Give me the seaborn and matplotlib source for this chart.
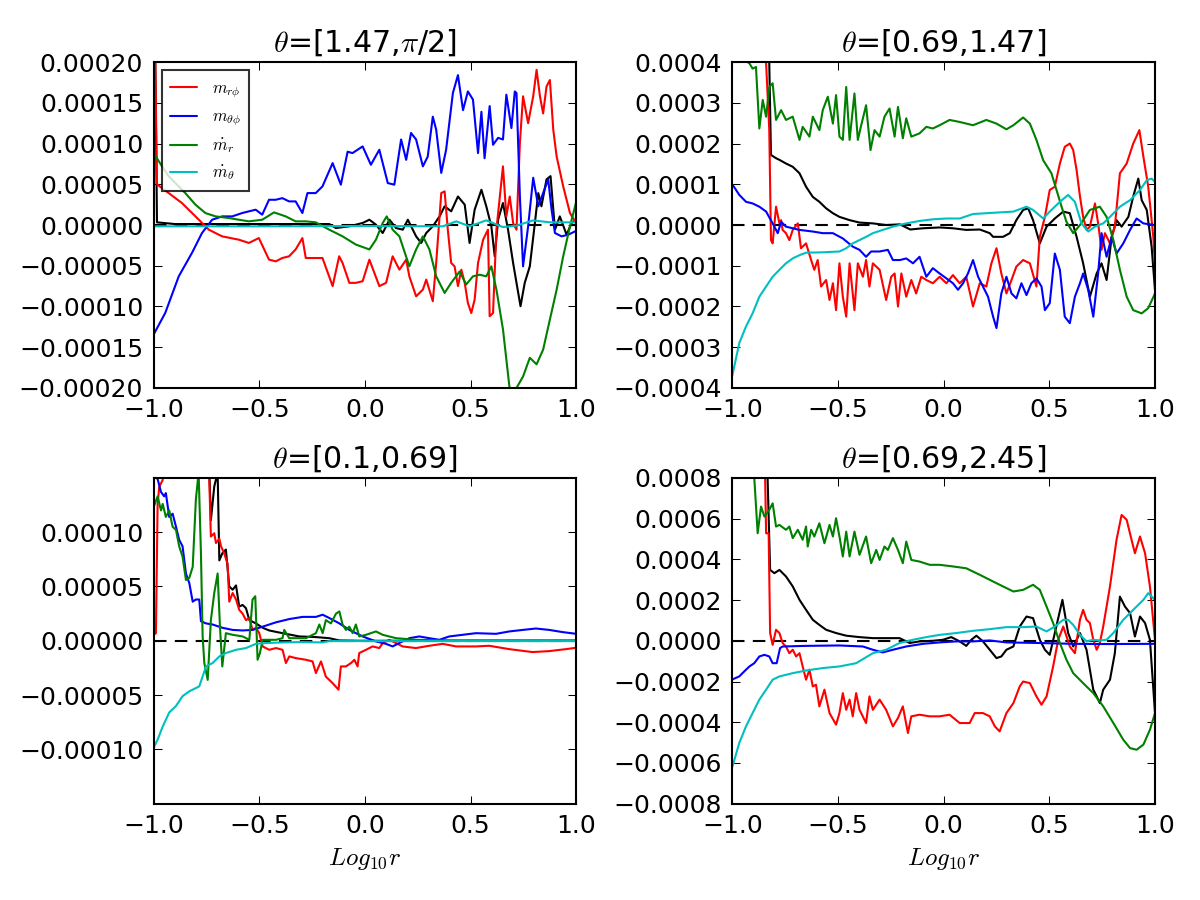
import numpy as np
import pandas as pd
import matplotlib
matplotlib.use("Agg")
import matplotlib.pyplot as plt
from matplotlib.ticker import MultipleLocator, FixedLocator
import seaborn as sns

# values are in units of 1e-5
SCALE = 1e-5

# ---- theta = [1.47, pi/2]  (top left)
tl_rphi_x = [-1.0, -0.992, -0.984, -0.866, -0.786, -0.739, -0.676, -0.597, -0.549, -0.502, -0.454, -0.422,
             -0.391, -0.359, -0.328, -0.296, -0.280, -0.201, -0.153, -0.122, -0.106, -0.074, -0.043, -0.011,
             0.021, 0.068, 0.100, 0.131, 0.163, 0.195, 0.210, 0.242, 0.274, 0.290, 0.321, 0.337, 0.361, 0.377,
             0.392, 0.408, 0.424, 0.440, 0.456, 0.472, 0.487, 0.503, 0.519, 0.535, 0.559, 0.582, 0.590, 0.606,
             0.622, 0.653, 0.669, 0.685, 0.701, 0.717, 0.733, 0.748, 0.772, 0.796, 0.812, 0.828, 0.843, 0.859,
             0.875, 0.891, 0.907, 0.938, 0.970, 0.994]
tl_rphi_y = [30, 20, 5.0, 2.7, 0.65, -0.57, -1.39, -1.8, -2.2, -1.6, -4.25, -4.46,
             -4.05, -3.84, -3.0, -1.6, -4.05, -4.05, -7.5, -3.84, -4.66, -7.1, -7.1, -6.9,
             -4.25, -7.5, -7.1, -3.84, -5.48, -4.25, -6.3, -8.75, -7.93, -6.7, -9.36, -4.66, 3.92, 4.13,
             -0.57, -4.66, -5.07, -7.5, -5.48, -7.1, -9.57, -10.8, -9.16, -4.66, -1.8, -0.57, -11.2, -10.8,
             -0.57, 7.2, 1.06, 3.5, 0.25, -0.57, 10.1, 15.8, 12.5, 15.8, 19.05, 15.8, 13.7, 17.0,
             17.8, 11.7, 8.4, 4.74, 1.47, 0.45]
tl_tphi_x = [-1.0, -0.945, -0.881, -0.818, -0.771, -0.723, -0.676, -0.628, -0.581, -0.549, -0.517, -0.486,
             -0.454, -0.422, -0.391, -0.359, -0.328, -0.296, -0.272, -0.233, -0.201, -0.153, -0.114, -0.082,
             -0.059, -0.011, 0.028, 0.068, 0.108, 0.139, 0.171, 0.195, 0.218, 0.242, 0.274, 0.297, 0.321,
             0.337, 0.361, 0.384, 0.416, 0.440, 0.464, 0.487, 0.511, 0.535, 0.551, 0.566, 0.590, 0.606, 0.630,
             0.653, 0.669, 0.693, 0.709, 0.717, 0.733, 0.748, 0.772, 0.796, 0.820, 0.843, 0.867, 0.883, 0.899,
             0.930, 0.962, 0.994]
tl_tphi_y = [-13.45, -10.8, -6.3, -3.4, -0.98, 0.65, 1.06, 1.06, 1.47, 1.68, 1.88, 1.27,
             3.1, 3.1, 3.3, 2.9, 2.9, 1.47, 3.92, 3.92, 4.74, 7.6, 4.95, 9.0,
             8.83, 9.65, 7.4, 9.24, 5.15, 4.95, 10.5, 8.0, 11.3, 10.5, 7.2, 8.4, 13.3,
             11.7, 6.4, 9.24, 16.2, 18.4, 14.1, 16.4, 15.4, 8.83, 13.9, 8.2, 14.6, 9.85, 10.7,
             10.5, 16.0, 11.9, 16.4, 16.2, 3.5, -5.07, -0.16, 5.8, 2.3, 3.92, 5.6, 1.88, -0.98,
             -1.39, -1.19, -0.78]
tl_mr_x = [-1.0, -0.960, -0.929, -0.897, -0.850, -0.802, -0.755, -0.707, -0.644, -0.597, -0.549, -0.486,
           -0.430, -0.375, -0.328, -0.280, -0.233, -0.169, -0.106, -0.043, 0.021, 0.052, 0.084, 0.103,
           0.131, 0.163, 0.210, 0.242, 0.274, 0.305, 0.337, 0.377, 0.408, 0.448, 0.479, 0.511, 0.543,
           0.574, 0.598, 0.622, 0.653, 0.685, 0.717, 0.748, 0.780, 0.812, 0.843, 0.875, 0.907, 0.938,
           0.970, 1.0]
tl_mr_y = [8.83, 7.2, 6.0, 5.15, 3.92, 2.5, 1.47, 1.06, 0.86, 0.65, 0.45, 0.65,
           1.55, 1.06, 0.45, 0.45, 0.33, -0.57, -1.39, -2.4, -3.0, -1.8, 0.25, 1.06,
           -0.57, -1.39, -5.07, -3.0, -1.39, -3.0, -6.3, -8.34, -7.1, -5.7, -7.3, -6.3, -6.1,
           -6.3, -5.07, -7.93, -12.8, -20.2, -20.0, -18.6, -16.3, -17.1, -15.3, -11.6, -7.93, -3.84,
           -0.16, 2.9]
tl_mt_x = [-1.0, -0.5, 0.0, 0.369, 0.432, 0.495, 0.574, 0.653, 0.717, 0.796, 0.875, 1.0]
tl_mt_y = [-0.16, -0.16, -0.12, -0.16, 0.45, -0.16, 0.57, -0.25, -0.08, 0.57, 0.33, 0.33]
tl_tot_x = [-1.0, -0.992, -0.984, -0.9, -0.5, -0.169, -0.138, -0.074, -0.011, 0.021, 0.052, 0.084, 0.116,
            0.147, 0.179, 0.203, 0.242, 0.266, 0.290, 0.321, 0.353, 0.377, 0.408, 0.440, 0.472, 0.495,
            0.519, 0.551, 0.574, 0.598, 0.614, 0.630, 0.653, 0.677, 0.701, 0.717, 0.736, 0.756, 0.780,
            0.804, 0.820, 0.835, 0.859, 0.878, 0.899, 0.922, 0.954, 0.978, 1.0]
tl_tot_y = [30, 20, 0.33, 0.12, 0.12, 0.12, -0.37, -0.16, 0.25, 0.65, 0.04, -0.98, 0.65,
            -0.37, -0.57, 0.65, -1.39, -2.2, -0.98, -0.16, 1.06, 2.3, 1.68, 3.5, 2.5, -2.2,
            1.88, 4.33, 2.3, -0.16, -3.84, 0.65, 2.7, -0.57, -4.66, -7.1, -9.97, -7.1, -5.07,
            0.25, 3.92, 2.3, 5.6, 6.0, -0.57, 1.06, -1.19, 0.25, 0.65]

# ---- theta = [0.69, 1.47]  (top right)
tr_rphi_x = [-1.0, -0.87, -0.856, -0.840, -0.825, -0.817, -0.809, -0.793, -0.777, -0.769, -0.762, -0.746,
             -0.730, -0.714, -0.690, -0.675, -0.651, -0.627, -0.612, -0.596, -0.580, -0.556, -0.540, -0.524,
             -0.509, -0.493, -0.477, -0.461, -0.445, -0.422, -0.406, -0.382, -0.367, -0.351, -0.335, -0.303,
             -0.272, -0.248, -0.232, -0.216, -0.200, -0.177, -0.153, -0.130, -0.106, -0.082, -0.051, -0.019,
             0.013, 0.044, 0.076, 0.107, 0.139, 0.171, 0.202, 0.226, 0.250, 0.273, 0.297, 0.321, 0.344,
             0.376, 0.408, 0.439, 0.455, 0.479, 0.502, 0.526, 0.550, 0.573, 0.597, 0.613, 0.629, 0.645,
             0.660, 0.676, 0.692, 0.716, 0.731, 0.747, 0.763, 0.787, 0.810, 0.834, 0.866, 0.897, 0.926,
             0.945, 0.968, 0.992, 1.0]
tr_rphi_y = [60, 55, 50, 39.7, 23.3, -3.7, -4.5, 4.5, 0.4, 1.2, -1.2, -2.0,
             -3.7, -1.2, 0.4, -5.7, -4.5, -8.6, -11.0, -8.6, -15.1, -13.5, -18.4, -14.3,
             -20.9, -9.4, -17.6, -22.5, -9.4, -20.9, -9.4, -12.7, -8.6, -15.1, -9.4, -11.0,
             -18.4, -12.7, -11.9, -20.0, -11.9, -17.6, -13.5, -16.8, -12.7, -13.5, -14.3, -12.7,
             -14.3, -12.3, -14.3, -12.7, -20.0, -14.3, -15.1, -9.4, -5.7, -11.9, -16.8, -13.5, -10.2,
             -8.6, -9.4, -15.1, -2.9, 2.0, 8.6, 9.4, 15.1, 19.2, 20.0, 18.4, 13.5, 7.0,
             2.0, -1.2, -0.4, 5.3, 0.4, -6.1, -2.0, -4.5, -0.4, 12.7, 15.1, 20.0, 23.3,
             16.8, 9.4, -2.9, -10.0]
tr_tphi_x = [-1.0, -0.967, -0.935, -0.904, -0.872, -0.840, -0.809, -0.785, -0.769, -0.746, -0.714, -0.682,
             -0.619, -0.572, -0.524, -0.477, -0.430, -0.398, -0.367, -0.343, -0.303, -0.264, -0.240, -0.207,
             -0.177, -0.145, -0.114, -0.082, -0.051, -0.019, 0.013, 0.044, 0.068, 0.092, 0.115, 0.139,
             0.163, 0.186, 0.210, 0.234, 0.250, 0.273, 0.297, 0.321, 0.344, 0.368, 0.392, 0.415, 0.439,
             0.463, 0.479, 0.502, 0.526, 0.550, 0.573, 0.597, 0.621, 0.645, 0.660, 0.684, 0.708, 0.731,
             0.747, 0.771, 0.795, 0.818, 0.850, 0.882, 0.913, 0.945, 0.976, 1.0]
tr_tphi_y = [10.0, 7.4, 5.7, 5.3, 4.5, 3.3, 0.4, -2.0, 0.8, -0.4, -0.8, -1.2,
             -1.6, -2.0, -2.0, -3.3, -5.3, -6.1, -7.8, -6.5, -6.5, -6.1, -8.6, -8.6,
             -8.2, -9.4, -7.8, -12.7, -10.6, -11.9, -13.1, -14.3, -15.9, -14.3, -11.9, -8.6,
             -12.7, -15.1, -17.6, -22.5, -25.3, -16.8, -12.7, -16.8, -18.0, -14.3, -17.2, -14.3, -13.1,
             -15.1, -20.9, -19.2, -7.0, -11.0, -22.5, -24.1, -17.6, -14.3, -11.9, -15.9, -22.5, -11.9,
             -2.0, -7.8, -2.9, -7.0, -4.5, -1.2, 1.6, 0.4, 0.16, 0.0]
tr_mr_x = [-1.0, -0.967, -0.919, -0.904, -0.888, -0.872, -0.856, -0.840, -0.825, -0.809, -0.793, -0.769,
           -0.746, -0.714, -0.682, -0.667, -0.635, -0.619, -0.588, -0.572, -0.548, -0.524, -0.509, -0.493,
           -0.477, -0.461, -0.445, -0.422, -0.406, -0.390, -0.367, -0.346, -0.327, -0.303, -0.280, -0.256,
           -0.232, -0.216, -0.193, -0.177, -0.153, -0.114, -0.082, -0.051, -0.019, 0.028, 0.076, 0.139,
           0.202, 0.250, 0.297, 0.330, 0.376, 0.408, 0.439, 0.471, 0.510, 0.534, 0.558, 0.581, 0.613,
           0.645, 0.692, 0.739, 0.771, 0.803, 0.834, 0.866, 0.897, 0.937, 0.968, 1.0]
tr_mr_y = [45, 41.3, 39.7, 38.4, 38.8, 23.7, 30.7, 26.6, 33.9, 34.8, 25.8, 28.2,
           25.8, 26.6, 20.9, 24.1, 21.7, 26.6, 23.3, 28.2, 31.5, 24.9, 31.9, 21.7,
           20.9, 33.9, 20.9, 32.3, 20.9, 24.5, 29.4, 18.4, 23.3, 21.7, 26.6, 28.6,
           21.7, 29.0, 21.3, 26.2, 21.7, 22.5, 24.1, 23.7, 24.5, 25.8, 25.3, 24.5,
           25.8, 24.9, 23.5, 24.5, 26.4, 24.9, 20.9, 15.9, 12.7, 8.6, 4.5, 0.8, -2.0,
           0.0, 3.7, 4.5, 2.0, -3.7, -11.0, -17.6, -20.9, -21.7, -20.4, -16.8]
tr_mt_x = [-1.0, -0.967, -0.935, -0.904, -0.872, -0.840, -0.809, -0.777, -0.746, -0.714, -0.682, -0.651,
           -0.572, -0.493, -0.461, -0.430, -0.398, -0.367, -0.335, -0.288, -0.240, -0.177, -0.114, -0.051,
           0.013, 0.076, 0.139, 0.202, 0.265, 0.330, 0.392, 0.423, 0.471, 0.502, 0.550, 0.589, 0.621,
           0.652, 0.684, 0.716, 0.755, 0.787, 0.834, 0.882, 0.929, 0.961, 0.984, 1.0]
tr_mt_y = [-37, -29.0, -24.9, -21.7, -17.6, -15.1, -12.7, -11.0, -9.4, -8.2, -7.4, -6.8,
           -6.7, -6.5, -5.7, -4.5, -3.7, -2.9, -2.0, -1.2, -0.4, 0.4, 1.0, 1.4,
           1.6, 1.6, 2.7, 2.9, 3.1, 3.3, 4.5, 3.7, 1.6, 3.3, 5.7, 7.4, 5.7,
           0.4, -1.6, -0.4, 0.4, 2.0, 4.5, 6.1, 8.6, 11.0, 11.4, 10.6]
tr_tot_x = [-1.0, -0.833, -0.825, -0.817, -0.793, -0.777, -0.746, -0.714, -0.682, -0.651, -0.619, -0.588,
            -0.556, -0.524, -0.493, -0.445, -0.398, -0.335, -0.272, -0.207, -0.158, -0.098, -0.019, 0.044,
            0.107, 0.171, 0.218, 0.234, 0.281, 0.313, 0.344, 0.376, 0.400, 0.423, 0.455, 0.487, 0.526,
            0.566, 0.597, 0.629, 0.660, 0.692, 0.724, 0.747, 0.771, 0.795, 0.818, 0.842, 0.874, 0.897,
            0.921, 0.937, 0.961, 0.984, 1.0]
tr_tot_y = [60, 50, 39.7, 17.2, 16.4, 16.0, 15.1, 14.3, 12.7, 9.4, 6.9, 5.7,
            4.1, 2.9, 2.0, 1.2, 0.6, 0.4, 0.0, 0.16, -1.1, -0.8, -0.6, -0.8,
            -1.2, -1.1, -2.0, -2.9, -2.9, -2.0, 1.2, 3.7, 4.1, 1.2, -4.5, -0.4, 1.6,
            3.3, 2.9, -2.9, -9.4, -17.6, -11.9, -9.4, -13.5, -2.9, 1.2, -0.4, 2.0, 7.0,
            11.4, 6.1, 3.7, -5.3, -16.0]

# ---- theta = [0.1, 0.69]  (bottom left)
bl_rphi_x = [-1.0, -0.989, -0.981, -0.973, -0.957, -0.94, -0.75, -0.737, -0.729, -0.713, -0.705, -0.689,
             -0.681, -0.666, -0.650, -0.642, -0.626, -0.610, -0.595, -0.579, -0.563, -0.547, -0.532, -0.516,
             -0.500, -0.484, -0.453, -0.421, -0.390, -0.374, -0.358, -0.326, -0.279, -0.248, -0.232, -0.208,
             -0.185, -0.153, -0.125, -0.114, -0.090, -0.066, -0.050, -0.035, -0.027, 0.005, 0.036, 0.068,
             0.084, 0.115, 0.147, 0.178, 0.241, 0.304, 0.368, 0.431, 0.525, 0.588, 0.683, 0.793, 0.872,
             0.951, 1.0]
bl_rphi_y = [0.55, 0.7, 12.6, 14.2, 14.8, 20, 20, 15.2, 9.6, 9.9, 9.0, 9.4,
             8.7, 8.05, 7.1, 3.6, 4.4, 3.8, 2.85, 2.5, 1.9, 2.1, 1.0, 1.2,
             0.7, -0.52, -0.83, -0.67, -0.83, -2.05, -1.44, -1.6, -1.75, -1.9, -2.97, -1.9,
             -3.3, -3.9, -4.5, -2.36, -2.36, -2.05, -1.75, -2.36, -1.13, -0.83, -0.52, -0.67,
             -0.21, 0.09, -0.21, -0.52, -0.67, -0.46, -0.28, -0.52, -0.52, -0.46, -0.77, -1.04, -0.95,
             -0.77, -0.64]
bl_tphi_x = [-1.0, -0.981, -0.965, -0.950, -0.942, -0.926, -0.910, -0.894, -0.879, -0.863, -0.847, -0.831,
             -0.815, -0.800, -0.784, -0.776, -0.752, -0.721, -0.675, -0.626, -0.579, -0.532, -0.484, -0.421,
             -0.358, -0.295, -0.232, -0.200, -0.169, -0.121, -0.074, -0.011, 0.052, 0.099, 0.131, 0.162,
             0.210, 0.257, 0.304, 0.352, 0.399, 0.462, 0.525, 0.620, 0.683, 0.746, 0.809, 0.872, 0.935, 1.0]
bl_tphi_y = [15.2, 14.9, 13.7, 13.3, 13.6, 11.4, 11.7, 10.5, 9.3, 8.7, 6.2, 5.3,
             3.6, 3.8, 3.8, 1.8, 1.6, 1.5, 1.2, 1.0, 0.95, 1.0, 1.3, 1.7,
             2.0, 2.2, 2.2, 2.4, 2.1, 1.6, 1.0, 0.4, -0.06, -0.28, -0.52, -0.21,
             0.24, 0.4, 0.24, 0.09, 0.4, 0.55, 0.7, 0.64, 0.86, 1.0, 1.13, 1.0, 0.8, 0.64]
bl_mr_x = [-1.0, -0.981, -0.965, -0.957, -0.942, -0.926, -0.910, -0.894, -0.879, -0.863, -0.847, -0.831,
           -0.815, -0.800, -0.787, -0.776, -0.768, -0.760, -0.744, -0.729, -0.713, -0.697, -0.686, -0.675,
           -0.658, -0.626, -0.579, -0.547, -0.532, -0.519, -0.508, -0.497, -0.484, -0.421, -0.390, -0.382,
           -0.358, -0.279, -0.232, -0.216, -0.200, -0.185, -0.161, -0.137, -0.121, -0.106, -0.090, -0.074,
           -0.058, -0.043, -0.027, 0.005, 0.052, 0.084, 0.147, 0.241, 0.399, 1.0]
bl_mr_y = [12.3, 13.3, 12.0, 12.6, 11.4, 12.0, 10.5, 10.2, 8.7, 7.75, 5.6, 5.8,
           6.8, 13.0, 15.5, 8.05, 0.4, -2.05, -3.6, 1.9, 4.4, 6.2, 1.3, -2.36,
           0.7, 0.55, 0.4, 0.09, 3.8, 4.1, -1.75, -1.13, 0.09, 0.09, 0.24, 1.0,
           0.24, 0.24, 0.7, 1.5, 0.7, 1.9, 1.6, 2.5, 2.7, 1.5, 1.0, 1.3,
           0.7, 1.5, 0.4, 0.55, 0.86, 0.55, 0.24, 0.09, 0.03, 0.03]
bl_mt_x = [-1.0, -0.981, -0.957, -0.926, -0.894, -0.863, -0.831, -0.784, -0.752, -0.721, -0.689, -0.658,
           -0.610, -0.563, -0.516, -0.468, -0.390, -0.311, -0.200, -0.169, -0.074, 1.0]
bl_mt_y = [-9.86, -9.1, -7.9, -6.6, -6.0, -5.1, -4.65, -4.2, -2.36, -2.05, -1.44, -1.13,
           -0.83, -0.67, -0.28, -0.21, -0.15, -0.12, -0.15, -0.03, -0.03, -0.03]
bl_tot_x = [-1.0, -0.76, -0.737, -0.729, -0.713, -0.697, -0.689, -0.675, -0.658, -0.642, -0.626, -0.610,
            -0.595, -0.579, -0.563, -0.547, -0.516, -0.484, -0.453, -0.390, -0.311, -0.232, -0.169, -0.121,
            -0.011, 1.0]
bl_tot_y = [40, 30, 16, 11.1, 14.2, 15.5, 7.4, 8.05, 8.4, 5.0, 4.7, 5.1,
            3.15, 3.3, 3.0, 1.9, 1.6, 1.2, 0.95, 0.7, 0.4, 0.34, 0.24, 0.03,
            0.0, 0.0]

# ---- theta = [0.69, 2.45]  (bottom right)
br_rphi_x = [-1.0, -0.848, -0.840, -0.828, -0.821, -0.809, -0.793, -0.777, -0.762, -0.746, -0.730, -0.714,
             -0.698, -0.682, -0.667, -0.651, -0.635, -0.619, -0.604, -0.588, -0.564, -0.540, -0.509, -0.493,
             -0.477, -0.461, -0.445, -0.430, -0.414, -0.398, -0.367, -0.351, -0.335, -0.303, -0.272, -0.240,
             -0.216, -0.193, -0.169, -0.153, -0.114, -0.066, -0.019, 0.028, 0.076, 0.123, 0.147, 0.186,
             0.218, 0.242, 0.265, 0.297, 0.330, 0.360, 0.376, 0.408, 0.439, 0.463, 0.487, 0.518, 0.542,
             0.566, 0.597, 0.621, 0.645, 0.660, 0.676, 0.692, 0.708, 0.724, 0.739, 0.755, 0.787, 0.818,
             0.842, 0.866, 0.889, 0.905, 0.929, 0.953, 0.976, 1.0]
br_rphi_y = [150, 100, 52.8, 52.8, 3.8, -2.0, 5.4, 3.8, -1.1, -2.8, -6.1, -4.4,
             -7.7, -6.1, -12.6, -19.1, -14.2, -22.4, -21.6, -32.2, -24.0, -35.5, -41.2, -35.5,
             -25.7, -33.9, -28.9, -37.1, -25.7, -33.9, -40.4, -27.3, -33.9, -28.9, -33.9, -42.0,
             -37.9, -32.2, -45.3, -37.1, -36.3, -37.1, -37.1, -36.3, -40.4, -40.4, -35.5, -35.5,
             -37.1, -42.0, -44.5, -35.5, -30.6, -22.4, -20.0, -20.8, -27.3, -31.4, -27.3, -12.6, 0.5,
             7.0, -2.8, -6.1, 10.3, 15.2, 10.3, 8.7, 0.5, -4.4, -1.1, 7.0, 26.7, 49.6,
             61.8, 59.4, 49.6, 43.0, 51.2, 43.0, 26.7, 0.5]
br_tphi_x = [-1.0, -0.967, -0.943, -0.919, -0.896, -0.872, -0.848, -0.825, -0.809, -0.790, -0.774, -0.762,
             -0.651, -0.493, -0.382, -0.335, -0.288, -0.240, -0.177, -0.098, -0.019, 0.060, 0.139, 0.218,
             0.297, 0.455, 0.613, 0.771, 1.0]
br_tphi_y = [-19.0, -17.5, -15.0, -12.6, -11.0, -7.7, -6.9, -7.7, -11.0, -11.0, -3.6, -2.8,
             -2.5, -2.3, -2.8, -4.4, -5.7, -4.4, -2.8, -1.5, -0.8, -0.3, -0.3, 0.16,
             -0.8, -1.1, -1.5, -1.6, -1.5]
br_mr_x = [-1.0, -0.92, -0.896, -0.880, -0.864, -0.848, -0.825, -0.809, -0.793, -0.777, -0.746, -0.730,
           -0.714, -0.690, -0.667, -0.651, -0.643, -0.627, -0.612, -0.588, -0.564, -0.540, -0.524, -0.509,
           -0.493, -0.477, -0.461, -0.445, -0.422, -0.398, -0.367, -0.343, -0.319, -0.303, -0.280, -0.264,
           -0.240, -0.216, -0.193, -0.177, -0.153, -0.114, -0.066, -0.019, 0.044, 0.107, 0.171, 0.234,
           0.281, 0.330, 0.376, 0.423, 0.455, 0.487, 0.518, 0.550, 0.581, 0.613, 0.660, 0.708, 0.755,
           0.803, 0.850, 0.882, 0.913, 0.945, 0.976, 1.0]
br_mr_y = [100, 90, 80, 52.8, 65.9, 61.0, 64.3, 67.5, 56.1, 56.9, 54.5, 56.1,
           50.4, 54.5, 49.6, 56.1, 46.3, 54.5, 51.2, 57.7, 47.9, 56.9, 51.2, 60.2,
           51.2, 41.4, 53.6, 41.4, 53.6, 42.2, 51.2, 38.1, 44.6, 39.7, 46.3, 44.6,
           50.4, 44.6, 38.1, 48.7, 39.7, 38.9, 37.3, 37.3, 36.5, 35.6, 32.4, 29.1,
           26.7, 24.2, 25.0, 27.5, 25.0, 16.8, 8.7, -1.1, -9.3, -15.9, -20.8, -25.7, -32.2,
           -40.4, -48.6, -52.7, -53.5, -51.0, -43.7, -35.5]
br_mt_x = [-1.0, -0.967, -0.935, -0.904, -0.872, -0.840, -0.809, -0.777, -0.714, -0.651, -0.572, -0.493,
           -0.414, -0.335, -0.272, -0.209, -0.145, -0.082, -0.019, 0.060, 0.139, 0.218, 0.297, 0.376,
           0.439, 0.487, 0.526, 0.566, 0.589, 0.613, 0.645, 0.676, 0.708, 0.739, 0.771, 0.803, 0.850,
           0.897, 0.945, 0.968, 1.0]
br_mt_y = [-62, -50.2, -42.0, -35.5, -28.9, -24.0, -19.1, -17.5, -15.9, -14.6, -13.4, -12.6,
           -11.0, -6.1, -4.4, -1.1, 0.5, 1.8, 2.9, 3.8, 4.9, 5.7, 6.7, 6.7,
           7.0, 4.6, 7.0, 10.3, 10.3, 7.8, 2.9, -0.3, 0.5, 0.16, 0.5, 3.8, 10.3,
           15.2, 20.1, 23.4, 20.1]
br_tot_x = [-1.0, -0.835, -0.833, -0.821, -0.801, -0.777, -0.746, -0.714, -0.682, -0.651, -0.619, -0.588,
            -0.556, -0.509, -0.461, -0.398, -0.335, -0.209, -0.161, -0.114, -0.051, -0.003, 0.036, 0.076,
            0.107, 0.131, 0.155, 0.186, 0.218, 0.250, 0.273, 0.297, 0.330, 0.360, 0.392, 0.423, 0.455,
            0.479, 0.502, 0.526, 0.562, 0.589, 0.613, 0.645, 0.676, 0.708, 0.724, 0.739, 0.755, 0.787,
            0.810, 0.834, 0.858, 0.882, 0.905, 0.929, 0.953, 0.976, 1.0]
br_tot_y = [150, 100, 80, 34.8, 33.2, 34.8, 31.6, 26.7, 20.1, 15.2, 10.3, 7.8,
            5.4, 3.8, 2.5, 1.8, 1.3, 1.3, -1.1, -0.3, 0.0, 0.5, 1.8, -0.3,
            -2.5, 0.5, 2.5, -0.3, -4.4, -8.5, -7.7, -4.4, -2.8, 7.0, 11.9, 11.1, 0.5,
            -4.4, -6.9, 3.8, 20.1, 3.8, -2.8, 3.8, -4.4, -24.0, -27.3, -30.6, -24.0, -19.1,
            -6.1, 21.7, 16.8, 13.6, 2.1, 11.9, 8.7, 0.5, -35.5]

titles = [r"$\theta$=[1.47,$\pi$/2]", r"$\theta$=[0.69,1.47]",
          r"$\theta$=[0.1,0.69]", r"$\theta$=[0.69,2.45]"]
labels = [r"$m_{r\phi}$", r"$m_{\theta\phi}$", r"$\dot{m}_r$", r"$\dot{m}_\theta$"]
ylims = [2e-4, 4e-4, 1.5e-4, 8e-4]
ysteps = [5e-5, 1e-4, 5e-5, 2e-4]

panels = [
    [(tl_rphi_x, tl_rphi_y), (tl_tphi_x, tl_tphi_y), (tl_mr_x, tl_mr_y), (tl_mt_x, tl_mt_y), (tl_tot_x, tl_tot_y)],
    [(tr_rphi_x, tr_rphi_y), (tr_tphi_x, tr_tphi_y), (tr_mr_x, tr_mr_y), (tr_mt_x, tr_mt_y), (tr_tot_x, tr_tot_y)],
    [(bl_rphi_x, bl_rphi_y), (bl_tphi_x, bl_tphi_y), (bl_mr_x, bl_mr_y), (bl_mt_x, bl_mt_y), (bl_tot_x, bl_tot_y)],
    [(br_rphi_x, br_rphi_y), (br_tphi_x, br_tphi_y), (br_mr_x, br_mr_y), (br_mt_x, br_mt_y), (br_tot_x, br_tot_y)],
]
colors = ["r", "b", "g", "c", "k"]

sns.set_style("ticks", rc={"xtick.direction": "in", "ytick.direction": "in",
                           "xtick.top": True, "ytick.right": True,
                           "axes.edgecolor": "black", "text.color": "black",
                           "xtick.color": "black", "ytick.color": "black",
                           "axes.labelcolor": "black"})
plt.rcParams["font.family"] = ["DejaVu Sans"]
plt.rcParams["font.size"] = 12
plt.rcParams["mathtext.fontset"] = "cm"
plt.rcParams["axes.linewidth"] = 1.0

fig, axes = plt.subplots(2, 2, figsize=(8, 6), dpi=150)
fig.subplots_adjust(left=0.128, right=0.9625, top=0.931, bottom=0.107, wspace=0.369, hspace=0.276)

for i, ax in enumerate(axes.flat):
    ax.axhline(0, color="k", linestyle="--", linewidth=1.0, dashes=(6, 4))
    series = panels[i]
    # black (total) first, then the four components
    order = [4, 0, 1, 2, 3]
    handles = []
    for j in order:
        xs, ys = series[j]
        df = pd.DataFrame({"x": xs, "y": np.array(ys) * SCALE})
        sns.lineplot(data=df, x="x", y="y", color=colors[j], linewidth=1.0,
                     estimator=None, sort=False, ax=ax)
        if j < 4:
            handles.append((j, ax.lines[-1]))
    ax.set_xlim(-1, 1)
    ax.set_ylim(-ylims[i], ylims[i])
    ax.xaxis.set_major_locator(FixedLocator([-1.0, -0.5, 0.0, 0.5, 1.0]))
    if i == 2:
        ax.yaxis.set_major_locator(FixedLocator([-1e-4, -5e-5, 0.0, 5e-5, 1e-4]))
    else:
        ax.yaxis.set_major_locator(MultipleLocator(ysteps[i]))
    ax.tick_params(which="major", length=4, width=0.5, labelsize=12, pad=5,
                   top=True, right=True, direction="in")
    ax.set_title(titles[i], fontsize=14.4, pad=5)
    ax.set_ylabel("")
    if i >= 2:
        ax.set_xlabel(r"$Log_{10}r$", fontsize=12)
    else:
        ax.set_xlabel("")
    for s in ax.spines.values():
        s.set_linewidth(1.0)
        s.set_color("black")
    if i == 0:
        handles.sort(key=lambda h: h[0])
        leg = ax.legend([h[1] for h in handles], labels, loc="upper left", fontsize=8,
                        handlelength=1.6, borderaxespad=0.5, labelspacing=0.48,
                        fancybox=False, frameon=True, borderpad=0.5, handletextpad=0.9)
        leg.get_frame().set_edgecolor("black")
        leg.get_frame().set_linewidth(1.0)
    elif ax.get_legend() is not None:
        ax.get_legend().remove()

fig.savefig("out.png", dpi=150, facecolor="white")
